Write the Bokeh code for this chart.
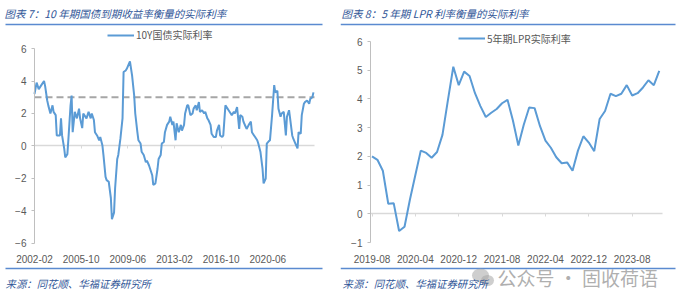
from bokeh.plotting import figure
from bokeh.models import (FixedTicker, Range1d, ColumnDataSource, Legend, LegendItem, LinearAxis)
from bokeh.layouts import row
from bokeh.core.properties import value
from bokeh.embed import file_html
from bokeh.resources import INLINE

# ---------------- data: 10Y government bond real rate ----------------
bond_dates = [
    "2002-02", "2002-04", "2002-06", "2002-08", "2002-11", "2002-12", "2003-02", "2003-03",
    "2003-05", "2003-07", "2003-08", "2003-10", "2003-11", "2004-02", "2004-03", "2004-04",
    "2004-06", "2004-07", "2004-09", "2004-10", "2004-12", "2005-01", "2005-02", "2005-04",
    "2005-06", "2005-08", "2005-09", "2005-11", "2005-12", "2006-03", "2006-05", "2006-07",
    "2006-08", "2006-10", "2006-11", "2007-01", "2007-03", "2007-04", "2007-06", "2007-07",
    "2007-09", "2007-10", "2007-12", "2008-02", "2008-03", "2008-05", "2008-06", "2008-08",
    "2008-09", "2008-11", "2009-01", "2009-02", "2009-04", "2009-05", "2009-07", "2009-08",
    "2009-10", "2009-12", "2010-01", "2010-03", "2010-04", "2010-06", "2010-07", "2010-09",
    "2010-11", "2010-12", "2011-02", "2011-03", "2011-05", "2011-06", "2011-08", "2011-10",
    "2011-11", "2012-01", "2012-02", "2012-04", "2012-05", "2012-07", "2012-09", "2012-10",
    "2012-12", "2013-01", "2013-03", "2013-04", "2013-06", "2013-08", "2013-09", "2013-11",
    "2013-12", "2014-02", "2014-03", "2014-05", "2014-07", "2014-08", "2014-10", "2014-11",
    "2015-01", "2015-02", "2015-04", "2015-06", "2015-07", "2015-09", "2015-10", "2015-12",
    "2016-01", "2016-03", "2016-05", "2016-06", "2016-08", "2016-09", "2016-11", "2016-12",
    "2017-02", "2017-04", "2017-05", "2017-07", "2017-08", "2017-10", "2017-11", "2018-01",
    "2018-03", "2018-04", "2018-06", "2018-07", "2018-09", "2018-10", "2018-12", "2019-02",
    "2019-03", "2019-05", "2019-06", "2019-08", "2019-09", "2019-11", "2020-01", "2020-02",
    "2020-04", "2020-05", "2020-07", "2020-08", "2020-10", "2020-12", "2021-01", "2021-03",
    "2021-04", "2021-06", "2021-07", "2021-09", "2021-11", "2021-12", "2022-02", "2022-03",
    "2022-05", "2022-06", "2022-08", "2022-10", "2022-11", "2023-01", "2023-02", "2023-04",
    "2023-05", "2023-07", "2023-09", "2023-10", "2023-12", "2024-01",
]
bond_real = [
    3.2, 3.9, 3.5, 3.7, 4.0, 3.7, 2.8, 2.5,
    2.0, 2.5, 2.1, 1.9, 0.65, 0.65, 1.7, 0.65,
    -0.15, -0.7, -0.5, 0.45, 2.5, 3.1, 0.85, 2.1,
    1.7, 2.3, 1.7, 1.1, 2.0, 1.7, 2.1, 1.7,
    2.0, 1.6, 0.85, 0.65, 0.35, 0.55, 0.05, -0.55,
    -1.9, -2.1, -2.2, -3.2, -4.5, -4.1, -2.6, -0.8,
    -0.55, 0.45, 1.7, 4.55, 4.65, 4.75, 5.05, 5.2,
    4.35, 3.1, 2.0, 0.85, 0.35, 0.15, -0.35, -0.55,
    -1.0, -0.9, -1.2, -1.4, -1.8, -2.4, -2.3, -1.4,
    -0.8, -0.55, 0.15, 0.25, 0.85, 1.3, 1.5, 1.8,
    1.3, 1.5, 0.35, 1.4, 0.85, 1.3, 0.95, 1.3,
    2.0, 2.5, 2.5, 1.9, 2.0, 2.3, 2.5, 2.2,
    2.7, 2.1, 2.2, 2.0, 2.1, 1.7, 1.6, 1.3,
    0.75, 0.55, 0.55, 0.95, 1.3, 0.65, 0.55, 0.65,
    2.5, 2.3, 2.2, 2.0, 1.9, 2.1, 2.0, 2.4,
    1.05, 1.9, 1.8, 1.5, 1.2, 1.05, 1.3, 1.5,
    0.85, 0.65, 0.55, 0.35, 0.15, -0.35, -1.4, -2.3,
    -2.0, 0.15, 0.3, 0.35, 1.9, 3.75, 3.3, 3.4,
    2.3, 1.8, 2.0, 2.1, 0.65, 1.8, 2.2, 1.7,
    0.65, 0.45, 0.15, -0.15, 0.85, 0.75, 1.9, 2.6,
    2.7, 2.8, 2.6, 2.9, 3.0, 3.3,
]
bond_ref_level = 3.0
bond_axis_end = "2024-02"
bond_xticks = ["2002-02", "2005-10", "2009-06", "2013-02", "2016-10", "2020-06"]
bond_yticks = [-6, -4, -2, 0, 2, 4, 6]

# ---------------- data: 5Y LPR real rate ----------------
lpr_dates = [
    "2019-08", "2019-09", "2019-10", "2019-11", "2019-12", "2020-01", "2020-02", "2020-03",
    "2020-04", "2020-05", "2020-06", "2020-07", "2020-08", "2020-09", "2020-10", "2020-11",
    "2020-12", "2021-01", "2021-02", "2021-03", "2021-04", "2021-05", "2021-06", "2021-07",
    "2021-08", "2021-09", "2021-10", "2021-11", "2021-12", "2022-01", "2022-02", "2022-03",
    "2022-04", "2022-05", "2022-06", "2022-07", "2022-08", "2022-09", "2022-10", "2022-11",
    "2022-12", "2023-01", "2023-02", "2023-03", "2023-04", "2023-05", "2023-06", "2023-07",
    "2023-08", "2023-09", "2023-10", "2023-11", "2023-12", "2024-01",
]
lpr_real = [
    2.0, 1.88, 1.5, 0.35, 0.37, -0.6, -0.45, 0.5,
    1.35, 2.2, 2.12, 1.95, 2.15, 2.75, 3.95, 5.12,
    4.48, 4.95, 4.8, 4.2, 3.75, 3.37, 3.52, 3.65,
    3.85, 3.97, 3.25, 2.38, 3.1, 3.7, 3.68, 3.05,
    2.55, 2.3, 1.97, 1.76, 1.79, 1.5, 2.2, 2.7,
    2.48, 2.18, 3.3, 3.58, 4.18, 4.1, 4.18, 4.48,
    4.12, 4.2, 4.4, 4.65, 4.48, 4.98,
]
lpr_xticks = ["2019-08", "2020-04", "2020-12", "2021-08", "2022-04", "2022-12", "2023-08"]
lpr_yticks = [-1, 0, 1, 2, 3, 4, 5, 6]

# ---------------- text ----------------
left_title = "图表 7：10 年期国债到期收益率衡量的实际利率"
left_legend = "10Y国债实际利率"
right_title = "图表 8：5 年期 LPR 利率衡量的实际利率"
right_legend = "5年期LPR实际利率"
source_text = "来源：同花顺、华福证券研究所"
watermark = "公众号 · 固收荷语"

LINE = "#5B9BD5"
TITLE_C = "#2F5597"
RULE_C = "#5A8AD0"
AXIS_C = "#BFBFBF"
ZERO_C = "#D9D9D9"
LABEL_C = "#595959"
CJK = "Noto Sans CJK SC"
NUM = "Liberation Sans"
H = 298


def month_index(s, base):
    y, m = map(int, s.split("-"))
    by, bm = map(int, base.split("-"))
    return (y - by) * 12 + (m - bm)


def panel(width, dates, values, base, xr, yr, y_axis_x, y_bounds, x_bounds, xticks, yticks,
          title, title_x, rule, legend_text, legend_loc, ref_level=None, wm=None):
    p = figure(width=width, height=H, output_backend="svg", toolbar_location=None,
               x_range=Range1d(*xr), y_range=Range1d(*yr), min_border=0,
               x_axis_location=None, y_axis_location=None)
    p.extra_x_ranges = {"px": Range1d(0, width)}
    p.extra_y_ranges = {"px": Range1d(H, 0)}
    p.outline_line_color = None
    p.xgrid.grid_line_color = None
    p.ygrid.grid_line_color = None
    p.background_fill_color = "white"
    p.border_fill_color = "white"

    tx = [month_index(t, base) for t in xticks]

    # zero line with small downward tick marks (no labels)
    za = LinearAxis(fixed_location=0, bounds=x_bounds, ticker=FixedTicker(ticks=tx),
                    axis_line_color=ZERO_C, axis_line_width=1.3,
                    major_tick_line_color=ZERO_C, major_tick_out=3, major_tick_in=0,
                    minor_tick_line_color=None, major_label_text_color=None,
                    level="underlay")
    p.add_layout(za, "below")

    # category labels along the bottom
    xa = LinearAxis(fixed_location=y_bounds[0], ticker=FixedTicker(ticks=tx),
                    major_label_overrides={t: lab for t, lab in zip(tx, xticks)},
                    axis_line_color=None, major_tick_line_color=None, minor_tick_line_color=None,
                    major_label_standoff=6, major_label_text_font=NUM,
                    major_label_text_font_size="10px", major_label_text_color=LABEL_C)
    p.add_layout(xa, "below")

    ya = LinearAxis(fixed_location=y_axis_x, bounds=y_bounds, ticker=FixedTicker(ticks=yticks),
                    axis_line_color=AXIS_C, major_tick_line_color=AXIS_C,
                    major_tick_out=3, major_tick_in=0, minor_tick_line_color=None,
                    major_label_standoff=5, major_label_text_font=NUM,
                    major_label_text_font_size="10px", major_label_text_color=LABEL_C)
    p.add_layout(ya, "left")

    if ref_level is not None:
        p.segment(x0=[x_bounds[0]], y0=[ref_level], x1=[x_bounds[1]], y1=[ref_level],
                  line_color="#A6A6A6", line_width=2.2, line_dash="7 4")

    xs = [month_index(d, base) for d in dates]
    src = ColumnDataSource(dict(x=xs, y=values))
    r = p.line("x", "y", source=src, line_color=LINE, line_width=2)

    leg = Legend(items=[LegendItem(label=legend_text, renderers=[r])], location=legend_loc,
                 orientation="horizontal", margin=0, padding=0, spacing=0,
                 glyph_width=27, glyph_height=12, label_height=12, label_standoff=2,
                 border_line_color=None, background_fill_alpha=0,
                 label_text_font=CJK, label_text_font_size="10px", label_text_color=LABEL_C)
    p.add_layout(leg)

    # header and footer (page-pixel coordinates)
    px = dict(x_range_name="px", y_range_name="px")
    p.text(x=[title_x], y=[13], text=[title], text_font=value(CJK), text_font_size="10.5px",
           text_font_style="italic", text_color=TITLE_C, text_baseline="middle", **px)
    p.segment(x0=[rule[0], rule[0]], y0=[24, 268], x1=[rule[1], rule[1]], y1=[24, 268],
              line_color=RULE_C, line_width=1.3, **px)
    if wm is not None:
        ix, iy = wm[0] - 14, wm[1]
        p.ellipse(x=[ix - 3, ix + 4], y=[iy - 2, iy + 3], width=[17, 13], height=[14, 11],
                  fill_color="#A6A6A6", fill_alpha=0.55, line_color=None, **px)
        p.text(x=[wm[0]], y=[wm[1]], text=[watermark], text_font=value(CJK),
               text_font_size="19px", text_color="#8C8C8C", text_alpha=0.7,
               text_baseline="middle", **px)
    p.text(x=[title_x + 1], y=[283], text=[source_text], text_font=value(CJK),
           text_font_size="10.4px", text_font_style="italic", text_color=TITLE_C,
           text_baseline="middle", **px)
    return p


# left: page x 34 <-> 2002-02, 1.0607 px/month; y: 6 @ 48px, -6 @ 243px
left = panel(340, bond_dates, bond_real, "2002-02", (-32.05, 288.51), (-9.385, 8.954),
             0, (-6, 6), (0, month_index(bond_axis_end, "2002-02")),
             bond_xticks, bond_yticks, left_title, 4, (5, 322), left_legend, (107, 256),
             ref_level=bond_ref_level)
# right: local x 31.5 <-> 2019-08, 5.42 px/month; y: 6 @ 41px, -1 @ 242px
right = panel(339, lpr_dates, lpr_real, "2019-08", (-5.812, 56.734), (-2.950, 7.428),
              -0.277, (-1, 6), (-0.277, 53.54),
              lpr_xticks, lpr_yticks, right_title, 1, (0, 335), right_legend, (118, 252.5),
              wm=(157, 277))

layout = row(left, right, spacing=0)
open("out.html", "w").write(file_html(layout, INLINE))
